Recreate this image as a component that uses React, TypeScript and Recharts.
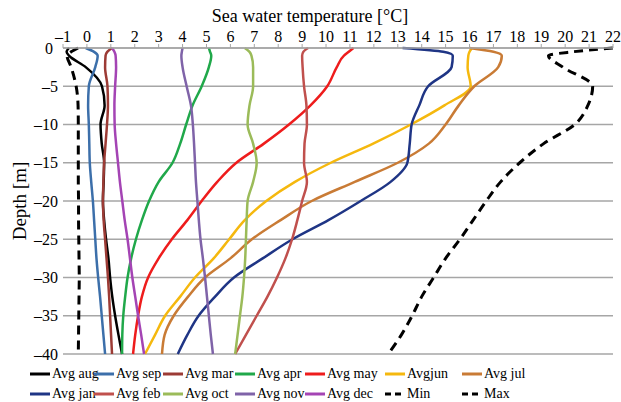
import {CartesianGrid, Label, Line, LineChart, XAxis, YAxis} from 'recharts';

const FONT = '"Liberation Serif", "Times New Roman", serif';

// depth rows shared by every profile [m]
const depths = [0, -0.5, -1, -2.5, -5, -7.5, -10, -12.5, -15, -17.5, -20, -22.5, -25, -27.5, -30, -32.5, -35, -37.5, -40];

// temperatures [°C], one per depth row
const avgAug = [-0.75, -0.85, -0.75, -0.05, 0.63, 0.74, 0.57, 0.62, 0.72, 0.7, 0.67, 0.72, 0.8, 0.9, 0.97, 1.06, 1.18, 1.32, 1.47];
const avgSep = [-0.05, 0.3, 0.45, 0.35, 0.08, 0.05, 0.08, 0.1, 0.12, 0.18, 0.25, 0.3, 0.35, 0.4, 0.47, 0.55, 0.62, 0.69, 0.76];
const avgMar = [1.05, 0.85, 0.78, 0.76, 0.86, 0.88, 0.84, 0.78, 0.72, 0.69, 0.67, 0.7, 0.76, 0.82, 0.88, 0.93, 0.97, 1.01, 1.05];
const avgApr = [5.1, 5.15, 5.2, 5.1, 4.8, 4.42, 4.15, 3.9, 3.58, 3.0, 2.6, 2.3, 2.05, 1.85, 1.7, 1.6, 1.52, 1.48, 1.47];
const avgMay = [11.15, 10.95, 10.75, 10.45, 10.05, 9.35, 8.45, 7.4, 6.25, 5.45, 4.8, 4.2, 3.55, 3.0, 2.56, 2.3, 2.14, 2.02, 1.93];
const avgJun = [16.1, 16.0, 15.95, 15.92, 16.05, 14.95, 13.55, 11.97, 10.2, 8.7, 7.5, 6.6, 5.95, 5.3, 4.52, 3.9, 3.27, 2.85, 2.43];
const avgJul = [16.0, 17.0, 17.35, 17.2, 16.2, 15.55, 15.0, 14.3, 13.0, 11.2, 9.4, 8.1, 6.9, 6.0, 4.94, 4.23, 3.63, 3.25, 3.14];
const avgJan = [13.2, 14.9, 15.3, 15.25, 14.27, 13.9, 13.58, 13.5, 13.4, 12.7, 11.45, 10.1, 8.6, 7.35, 6.15, 5.36, 4.67, 4.2, 3.8];
const avgFeb = [9.25, 9.05, 9.0, 9.02, 9.08, 9.18, 9.2, 9.1, 9.08, 9.2, 9.0, 8.8, 8.58, 8.3, 7.95, 7.55, 7.1, 6.65, 6.2];
const avgOct = [6.6, 6.8, 6.88, 6.95, 6.95, 6.8, 6.72, 6.95, 7.1, 6.95, 6.72, 6.68, 6.65, 6.62, 6.57, 6.5, 6.4, 6.3, 6.2];
const avgNov = [4.0, 3.97, 3.95, 4.0, 4.17, 4.35, 4.43, 4.48, 4.52, 4.56, 4.62, 4.68, 4.75, 4.85, 4.94, 5.02, 5.1, 5.18, 5.27];
const avgDec = [1.05, 1.15, 1.2, 1.22, 1.18, 1.15, 1.16, 1.22, 1.3, 1.38, 1.48, 1.58, 1.7, 1.8, 1.9, 2.02, 2.14, 2.27, 2.39];
const minTemp = [-0.37, -0.66, -0.83, -0.66, -0.45, -0.37, -0.36, -0.36, -0.36, -0.36, -0.35, -0.35, -0.34, -0.33, -0.32, -0.33, -0.34, -0.35, -0.36];
const maxTemp = [22.0, 20.3, 19.3, 19.9, 21.15, 20.95, 20.4, 19.1, 18.1, 17.3, 16.7, 16.15, 15.6, 15.0, 14.5, 14.0, 13.6, 13.15, 12.6];

const tempTicks = [-1, 0, 1, 2, 3, 4, 5, 6, 7, 8, 9, 10, 11, 12, 13, 14, 15, 16, 17, 18, 19, 20, 21, 22];
const depthTicks = [0, -5, -10, -15, -20, -25, -30, -35, -40];

const series = [
  {key: 'aug', name: 'Avg aug', color: '#000000', values: avgAug},
  {key: 'sep', name: 'Avg sep', color: '#3c6faa', values: avgSep},
  {key: 'mar', name: 'Avg mar', color: '#9c3b35', values: avgMar},
  {key: 'apr', name: 'Avg apr', color: '#20a84a', values: avgApr},
  {key: 'may', name: 'Avg may', color: '#ee1c1c', values: avgMay},
  {key: 'jun', name: 'Avgjun', color: '#f5b80e', values: avgJun},
  {key: 'jul', name: 'Avg jul', color: '#c97b35', values: avgJul},
  {key: 'jan', name: 'Avg jan', color: '#1f3585', values: avgJan},
  {key: 'feb', name: 'Avg feb', color: '#c0504d', values: avgFeb},
  {key: 'oct', name: 'Avg oct', color: '#9bbb59', values: avgOct},
  {key: 'nov', name: 'Avg nov', color: '#7f63a8', values: avgNov},
  {key: 'dec', name: 'Avg dec', color: '#a444b4', values: avgDec},
  {key: 'min', name: 'Min', color: '#000000', values: minTemp, dashed: true},
  {key: 'max', name: 'Max', color: '#000000', values: maxTemp, dashed: true},
];

const data = depths.map((depth, i) => {
  const row: Record<string, number> = {depth};
  series.forEach(s => (row[s.key] = s.values[i]));
  return row;
});

const dash = (v: number) => String(v).replace('-', '\u2013');

function TopTitle(props: any) {
  const vb = props.viewBox ?? {x: 63, y: 0, width: 550, height: 48};
  return (
    <text x={vb.x + vb.width / 2 - 28} y={vb.y + 22} textAnchor="middle" fontSize={18} fontFamily={FONT} fill="#000">
      Sea water temperature [°C]
    </text>
  );
}

function SideTitle(props: any) {
  const vb = props.viewBox ?? {x: 0, y: 48, width: 63, height: 306};
  const cx = vb.x + 19;
  const cy = vb.y + vb.height / 2;
  return (
    <text x={cx} y={cy} transform={`rotate(-90, ${cx}, ${cy})`} textAnchor="middle" dominantBaseline="central" fontSize={19} fontFamily={FONT} fill="#000">
      Depth [m]
    </text>
  );
}

// depth tick; the surface "0" sits a little left, clear of the "–1" above it
function DepthTick(props: any) {
  const {x, y, payload} = props;
  const shift = payload.value === 0 ? 5 : 0;
  return (
    <text x={x - shift} y={y} dy="0.355em" textAnchor="end" fontSize={16} fontFamily={FONT} fill="#000">
      {dash(payload.value)}
    </text>
  );
}

function Swatch({color, dashed}: {color: string; dashed?: boolean}) {
  return (
    <svg width={20} height={6} style={{flex: 'none'}}>
      <line x1={0} x2={20} y1={3} y2={3} stroke={color} strokeWidth={3} strokeDasharray={dashed ? '6 4' : undefined} />
    </svg>
  );
}

export default function App() {
  return (
    <div style={{position: 'absolute', left: 0, top: 0, width: 621, height: 402, background: '#fff'}}>
      <LineChart width={621} height={402} data={data} layout="vertical" margin={{top: 0, right: 8, bottom: 48, left: 0}}>
        <CartesianGrid vertical={false} stroke="#a6a6a6" strokeWidth={1.6} />
        <XAxis
          type="number"
          orientation="top"
          domain={[-1, 22]}
          ticks={tempTicks}
          interval={0}
          height={48}
          tickSize={4}
          tickMargin={2}
          allowDataOverflow
          axisLine={{stroke: '#a6a6a6', strokeWidth: 1.6}}
          tickLine={{stroke: '#a6a6a6'}}
          tick={{fill: '#000', fontSize: 16, fontFamily: FONT}}
          tickFormatter={dash}
        >
          <Label content={TopTitle} />
        </XAxis>
        <YAxis
          type="number"
          dataKey="depth"
          domain={[-40, 0]}
          ticks={depthTicks}
          interval={0}
          reversed
          width={63}
          tickSize={0}
          tickMargin={5}
          axisLine={false}
          tickLine={false}
          tick={DepthTick}
        >
          <Label content={SideTitle} />
        </YAxis>
        {series.map(s => (
          <Line
            key={s.key}
            dataKey={s.key}
            name={s.name}
            type="monotone"
            stroke={s.color}
            strokeWidth={s.dashed ? 3 : 2.5}
            strokeDasharray={s.dashed ? '9 6' : undefined}
            dot={false}
            activeDot={false}
            isAnimationActive={false}
          />
        ))}
      </LineChart>
      <div
        style={{
          position: 'absolute',
          left: 30,
          top: 364,
          display: 'grid',
          gridTemplateColumns: '64px 69px 72px 70px 80px 77px 60px',
          gridAutoRows: '20px',
          fontFamily: FONT,
          fontSize: 14,
          color: '#000',
        }}
      >
        {series.map(s => (
          <div key={s.key} style={{display: 'flex', alignItems: 'center', gap: 2, whiteSpace: 'nowrap'}}>
            <Swatch color={s.color} dashed={s.dashed} />
            <span>{s.name}</span>
          </div>
        ))}
      </div>
    </div>
  );
}
